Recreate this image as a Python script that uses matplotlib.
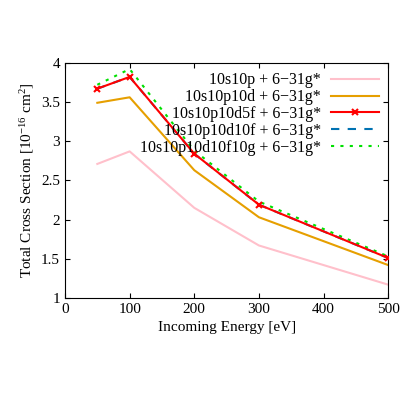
import matplotlib
matplotlib.use("Agg")
import matplotlib.pyplot as plt

plt.rcParams['font.family'] = ['Liberation Serif', 'DejaVu Serif']
plt.rcParams['mathtext.fontset'] = 'custom'
plt.rcParams['mathtext.rm'] = 'Liberation Serif'
plt.rcParams['mathtext.it'] = 'Liberation Serif:italic'
energy = [50, 100, 200, 300, 500]
s1 = [2.71, 2.87, 2.15, 1.67, 1.17]
s2 = [3.49, 3.56, 2.63, 2.03, 1.42]
s3 = [3.67, 3.82, 2.84, 2.19, 1.51]
s4 = [3.67, 3.82, 2.84, 2.19, 1.51]
s5 = [3.72, 3.92, 2.88, 2.23, 1.53]
labels = ["10s10p + 6\u221231g*", "10s10p10d + 6\u221231g*", "10s10p10d5f + 6\u221231g*",
          "10s10p10d10f + 6\u221231g*", "10s10p10d10f10g + 6\u221231g*"]

fig = plt.figure(figsize=(4, 4), dpi=100)
ax = fig.add_axes([0.1625, 0.255, 0.808, 0.588])
ax.plot(energy, s1, color='#ffc0cb', lw=1.5, label=labels[0])
ax.plot(energy, s2, color='#e69f00', lw=1.5, label=labels[1])
ax.plot(energy, s3, color='red', lw=1.5, marker='x', ms=4, mew=1.5, label=labels[2], zorder=4)
ax.plot(energy, s4, color='#0072b2', lw=1.5, ls=(0, (4, 4)), label=labels[3], zorder=3)
ax.plot(energy, s5, color='#00e000', lw=1.5, ls=(0, (1.5, 3)), label=labels[4], zorder=2)
ax.set_xlim(0, 500)
ax.set_ylim(1, 4)
ax.set_xticks([0, 100, 200, 300, 400, 500])
ax.set_yticks([1, 1.5, 2, 2.5, 3, 3.5, 4])
ax.set_yticklabels(['1', '1.5', '2', '2.5', '3', '3.5', '4'])
ax.tick_params(direction='in', top=True, right=True, labelsize=11)
ax.set_xlabel('Incoming Energy [eV]', fontsize=11)
ax.set_ylabel('Total Cross Section [10$^{-16}$ cm$^{2}$]', fontsize=11)
ax.legend(loc='upper right', frameon=False, fontsize=11.5, markerfirst=False,
          handlelength=3, labelspacing=0.05, borderaxespad=0.2, handletextpad=0.6)
fig.savefig('out.png', dpi=100)
